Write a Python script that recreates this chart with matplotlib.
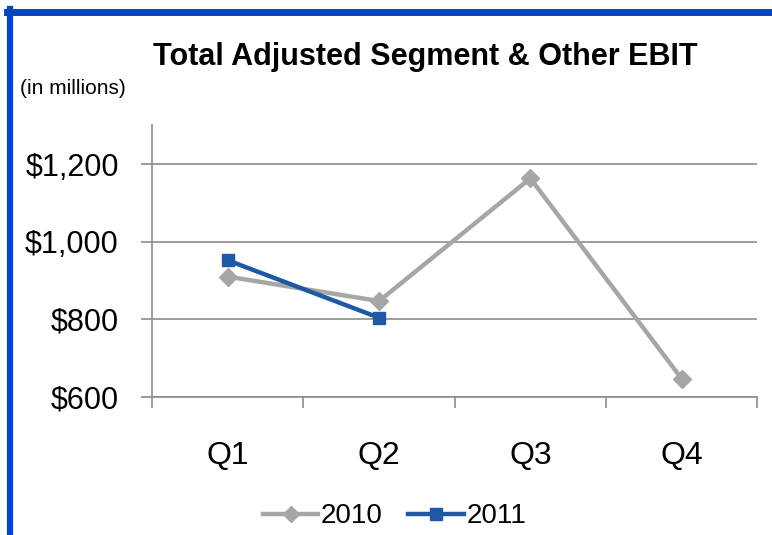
import matplotlib
matplotlib.use('Agg')
import matplotlib.pyplot as plt
from matplotlib.lines import Line2D
from matplotlib.ticker import FuncFormatter

plt.rcParams['font.family'] = ['Liberation Sans Narrow', 'Liberation Sans', 'DejaVu Sans']

# Data (in millions)
quarters = ['Q1', 'Q2', 'Q3', 'Q4']
ebit_2010 = [910, 847, 1163, 647]
ebit_2011 = [952, 804]

gray = '#A6A6A6'
blue = '#1F58A3'
axis_gray = '#8C8C8C'

fig = plt.figure(figsize=(7.72, 5.35), dpi=100)
ax = fig.add_axes([0.197, 0.258, 0.784, 0.508])

x = list(range(len(quarters)))
ax.plot(x, ebit_2010, color=gray, lw=3.2, marker='D', ms=9, label='2010', zorder=3)
ax.plot(x[:len(ebit_2011)], ebit_2011, color=blue, lw=3.2, marker='s', ms=9, label='2011', zorder=4)

ax.set_xlim(-0.5, 3.5)
ax.set_ylim(600, 1300)
ax.set_yticks([600, 800, 1000, 1200])
ax.yaxis.set_major_formatter(FuncFormatter(lambda v, p: f'${v:,.0f}'))
ax.grid(axis='y', color=axis_gray, lw=1.2)
ax.set_axisbelow(True)

ax.set_xticks(x)
ax.set_xticklabels(quarters)
ax.set_xticks([-0.5, 0.5, 1.5, 2.5, 3.5], minor=True)
ax.tick_params(axis='x', which='major', length=0, pad=32, labelsize=23)
ax.tick_params(axis='x', which='minor', length=8, width=1.2, color=axis_gray, direction='out')
ax.tick_params(axis='y', length=8, width=1.2, color=axis_gray, labelsize=22, pad=16)

for s in ['top', 'right']:
    ax.spines[s].set_visible(False)
for s in ['left', 'bottom']:
    ax.spines[s].set_color(axis_gray)
    ax.spines[s].set_linewidth(1.2)

fig.text(0.551, 0.893, 'Total Adjusted Segment & Other EBIT', ha='center', va='center',
         fontsize=22, fontweight='bold')
fig.text(0.026, 0.835, '(in millions)', ha='left', va='center', fontsize=15)

ax.legend(loc='center', bbox_to_anchor=(0.511, 0.035), bbox_transform=fig.transFigure,
          ncol=2, frameon=False, fontsize=20, handlelength=2.0, columnspacing=0.9,
          handletextpad=0.1, markerscale=0.9)

# blue frame on top and left
border = '#0047BB'
fig.add_artist(Line2D([0.009, 1.0], [0.978, 0.978], color=border, lw=5, transform=fig.transFigure))
fig.add_artist(Line2D([0.013, 0.013], [0.0, 0.984], color=border, lw=4.5, transform=fig.transFigure))

fig.savefig('out.png', dpi=100)
